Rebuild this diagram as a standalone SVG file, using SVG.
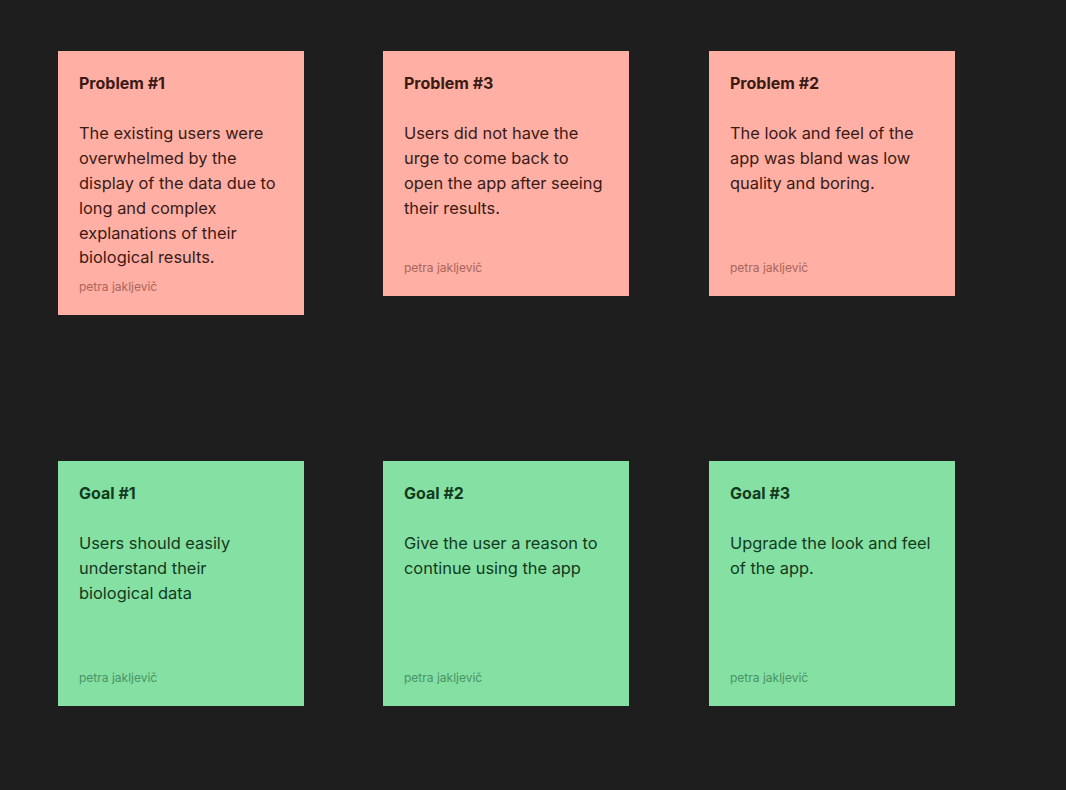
<svg xmlns="http://www.w3.org/2000/svg" width="1066" height="790" viewBox="0 0 1066 790">
<style>
.bg{fill:#1e1e1e}
.pink{fill:#ffafa3}
.green{fill:#85e0a3}
text{font-family:Inter,"Noto Sans",sans-serif}
.t{font-size:16px;font-weight:700}
.b{font-size:16.4px}
.a{font-size:12px}
.pk .t,.pk .b{fill:#3a1a15}
.pk .a{fill:#a8655c}
.gr .t,.gr .b{fill:#123a20}
.gr .a{fill:#4a9366}
</style>
<rect class="bg" width="1066" height="790"/>
<g id="problem1" class="pk">
<rect class="pink" x="58" y="51" width="246" height="264"/>
<text class="t" x="79" y="89">Problem #1</text>
<text class="b"><tspan x="79" y="139">The existing users were</tspan><tspan x="79" y="164">overwhelmed by the</tspan><tspan x="79" y="189">display of the data due to</tspan><tspan x="79" y="214">long and complex</tspan><tspan x="79" y="239">explanations of their</tspan><tspan x="79" y="263">biological results.</tspan></text>
<text class="a" x="79" y="291">petra jakljevič</text>
</g>
<g id="problem3" class="pk">
<rect class="pink" x="383" y="51" width="246" height="245"/>
<text class="t" x="404" y="89">Problem #3</text>
<text class="b"><tspan x="404" y="139">Users did not have the</tspan><tspan x="404" y="164">urge to come back to</tspan><tspan x="404" y="189">open the app after seeing</tspan><tspan x="404" y="214">their results.</tspan></text>
<text class="a" x="404" y="272">petra jakljevič</text>
</g>
<g id="problem2" class="pk">
<rect class="pink" x="709" y="51" width="246" height="245"/>
<text class="t" x="730" y="89">Problem #2</text>
<text class="b"><tspan x="730" y="139">The look and feel of the</tspan><tspan x="730" y="164">app was bland was low</tspan><tspan x="730" y="189">quality and boring.</tspan></text>
<text class="a" x="730" y="272">petra jakljevič</text>
</g>
<g id="goal1" class="gr">
<rect class="green" x="58" y="461" width="246" height="245"/>
<text class="t" x="79" y="499">Goal #1</text>
<text class="b"><tspan x="79" y="549">Users should easily</tspan><tspan x="79" y="574">understand their</tspan><tspan x="79" y="599">biological data</tspan></text>
<text class="a" x="79" y="682">petra jakljevič</text>
</g>
<g id="goal2" class="gr">
<rect class="green" x="383" y="461" width="246" height="245"/>
<text class="t" x="404" y="499">Goal #2</text>
<text class="b"><tspan x="404" y="549">Give the user a reason to</tspan><tspan x="404" y="574">continue using the app</tspan></text>
<text class="a" x="404" y="682">petra jakljevič</text>
</g>
<g id="goal3" class="gr">
<rect class="green" x="709" y="461" width="246" height="245"/>
<text class="t" x="730" y="499">Goal #3</text>
<text class="b"><tspan x="730" y="549">Upgrade the look and feel</tspan><tspan x="730" y="574">of the app.</tspan></text>
<text class="a" x="730" y="682">petra jakljevič</text>
</g>
<g id="connectors"></g>
</svg>
